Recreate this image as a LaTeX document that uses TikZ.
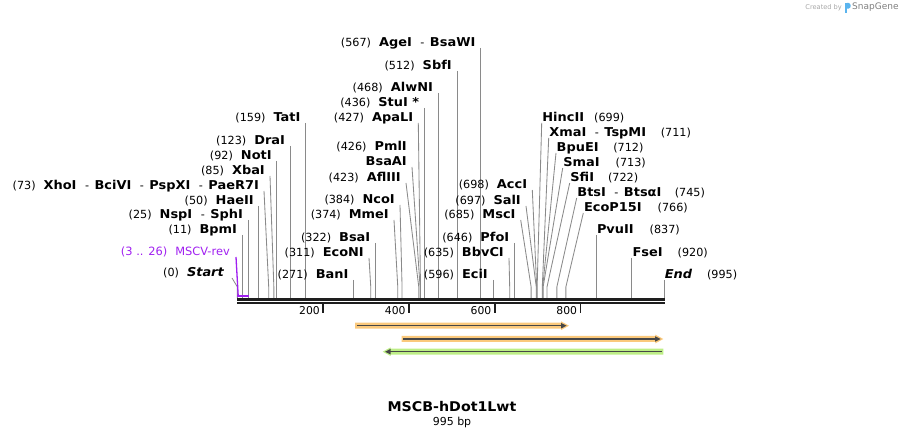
\documentclass[tikz,border=0pt]{standalone}
\usepackage{fontspec}
\setmainfont{DejaVu Sans}
\newfontfamily\nmfont[FakeStretch=1.06]{DejaVu Sans}
\usetikzlibrary{arrows.meta}
\definecolor{conncol}{HTML}{8A8A8A}
\definecolor{seqcol}{HTML}{1E1E1E}
\definecolor{primercol}{RGB}{160,32,240}
\definecolor{orangehl}{HTML}{FBC97C}
\definecolor{greenhl}{HTML}{BDEE86}
\definecolor{featline}{HTML}{474747}
\definecolor{snapblue}{HTML}{5AB4EE}
\newcommand\numf[1]{{\normalfont\fontsize{11.2}{12}\selectfont(#1)}}
\newcommand\nm[1]{{\nmfont\bfseries\fontsize{12.2}{13}\selectfont #1}}
\newcommand\nmi[1]{{\nmfont\bfseries\itshape\fontsize{12.2}{13}\selectfont #1}}
\newcommand\sepp{\hspace{8.5pt}{\normalfont\fontsize{11.2}{12}\selectfont-}\hspace{5.5pt}}
\newcommand\nl[2]{\numf{#1}\hspace{8pt}\nm{#2}}
\newcommand\nr[3]{\nm{#1}\hspace{#2pt}\numf{#3}}
\newcommand\bpx[1]{237.4+0.4288*#1}
\tikzset{
  lblL/.style={anchor=south east, inner xsep=5pt, inner ysep=0pt, text height=9pt, text depth=1.5pt},
  lblR/.style={anchor=south west, inner xsep=0.5pt, inner ysep=0pt, text height=9pt, text depth=1.5pt},
  conn/.style={draw=conncol, line width=0.85pt},
  seqline/.style={draw=seqcol},
  featarrow/.style={draw=featline, line width=1.5pt},
  tickl/.style={anchor=east, inner sep=0pt, font=\fontsize{10.8}{12}\selectfont}
}
\newcommand\labL[5]{%
  \node[lblL] (#1) at (#2,#3) {#5};
  \coordinate (#1k) at (\bpx{#4},287);
  \coordinate (#1p) at (\bpx{#4},298.5);
  \draw[conn] (#1.south east) -- (#1k) -- (#1p);}
\newcommand\labR[5]{%
  \node[lblR] (#1) at (#2,#3) {#5};
  \coordinate (#1k) at (\bpx{#4},287);
  \coordinate (#1p) at (\bpx{#4},298.5);
  \draw[conn] (#1.south west) -- (#1k) -- (#1p);}
\begin{document}
\begin{tikzpicture}[x=1pt,y=-1pt]
\useasboundingbox (0,0) rectangle (903,438);
% watermark
\node[font=\fontsize{6.6}{7}\selectfont, text=black!35, inner sep=0pt, anchor=east] (cb) at (842,7.5) {Created by};
\fill[snapblue] (844.6,3) rectangle (847.2,12.8);
\fill[snapblue] (847.2,3) -- (848.6,3) .. controls (851.4,3) and (851.4,8.6) .. (848.6,8.6) -- (847.2,8.6) -- cycle;
\node[font=\fontsize{9}{10}\selectfont, text=black!50, inner sep=0pt, anchor=west] (sg) at (852,7.5) {SnapGene};

% left group
\labL{ageI}{\bpx{567}}{48}{567}{\nl{567}{AgeI\sepp BsaWI}}
\labL{sbfI}{\bpx{512}}{71}{512}{\nl{512}{SbfI}}
\labL{alwNI}{\bpx{468}}{93}{468}{\nl{468}{AlwNI}}
\labL{stuI}{\bpx{436}}{108}{436}{\nl{436}{StuI *}}
\labL{apaLI}{418.3}{123}{427}{\nl{427}{ApaLI}}
\labL{tatI}{\bpx{159}}{123}{159}{\nl{159}{TatI}}
\labL{draI}{\bpx{123}}{146}{123}{\nl{123}{DraI}}
\labL{notI}{\bpx{92}}{161}{92}{\nl{92}{NotI}}
\labL{xbaI}{270}{176}{85}{\nl{85}{XbaI}}
\labL{xhoI}{264}{191}{73}{\nl{73}{XhoI\sepp BciVI\sepp PspXI\sepp PaeR7I}}
\labL{haeII}{\bpx{50}}{206}{50}{\nl{50}{HaeII}}
\labL{nspI}{\bpx{25}}{220}{25}{\nl{25}{NspI\sepp SphI}}
\labL{bpmI}{\bpx{11}}{235}{11}{\nl{11}{BpmI}}
% start
\node[lblL, inner xsep=8pt] (start) at (232,278) {\numf{0}\hspace{8pt}\nmi{Start}};
\coordinate (startk) at (\bpx{0},287);
\coordinate (startp) at (\bpx{0},298.5);
\draw[conn] (start.south east) -- (startk) -- (startp);
% primer
\node[lblL, inner xsep=6pt, text=primercol] (mscv) at (236,257) {{\fontsize{11.4}{12}\selectfont(3 .. 26)\hspace{8pt}MSCV-rev}};
\coordinate (prA) at (237.4,295.8);
\coordinate (prB) at (\bpx{26},295.8);
\coordinate (prC) at (238.2,295.8);
\draw[primercol, line width=1.3pt] (mscv.south east) -- (prC);
\draw[primercol, line width=2pt] (prA) -- (prB);

% middle left
\node[lblL] (pmlI) at (412,152) {\nl{426}{PmlI}};
\labL{bsaAI}{412}{167}{426}{\nm{BsaAI}}
\labL{aflIII}{406}{183}{423}{\nl{423}{AflIII}}
\labL{ncoI}{400}{205}{384}{\nl{384}{NcoI}}
\labL{mmeI}{394}{220}{374}{\nl{374}{MmeI}}
\labL{bsaI}{\bpx{322}}{243}{322}{\nl{322}{BsaI}}
\labL{ecoNI}{369}{258}{311}{\nl{311}{EcoNI}}
\labL{banI}{\bpx{271}}{280}{271}{\nl{271}{BanI}}
% middle right
\labL{accI}{532.3}{190}{698}{\nl{698}{AccI}}
\labL{salI}{526}{206}{697}{\nl{697}{SalI}}
\labL{mscI}{520.7}{220}{685}{\nl{685}{MscI}}
\labL{pfoI}{\bpx{646}}{243}{646}{\nl{646}{PfoI}}
\labL{bbvCI}{509}{258}{635}{\nl{635}{BbvCI}}
\labL{eciI}{\bpx{596}}{280}{596}{\nl{596}{EciI}}
% right group
\labR{hincII}{541.7}{123}{699}{\nr{HincII}{10}{699}}
\labR{xmaI}{548.7}{138}{711}{\nr{XmaI\sepp TspMI}{14.7}{711}}
\labR{bpuEI}{556}{153}{712}{\nr{BpuEI}{14.7}{712}}
\labR{smaI}{562.7}{168}{713}{\nr{SmaI}{16}{713}}
\labR{sfiI}{569.7}{183}{722}{\nr{SfiI}{14}{722}}
\labR{btsI}{576.7}{198}{745}{\nr{BtsI\sepp BtsαI}{13.4}{745}}
\labR{ecoP}{583.3}{213}{766}{\nr{EcoP15I}{16}{766}}
\labR{pvuII}{\bpx{837}}{235}{837}{\nr{PvuII}{16}{837}}
\labR{fseI}{\bpx{920}}{258}{920}{\nr{FseI}{15}{920}}
\node[lblR] (endl) at (\bpx{995},280) {\nmi{End}\hspace{15pt}\numf{995}};
\coordinate (endp) at (\bpx{995},298.5);
\draw[conn] (endl.south west) -- (endp);

% sequence
\coordinate (sqa) at (237.4,299.5);
\coordinate (sqb) at (665,299.5);
\coordinate (sqc) at (237.4,303.2);
\coordinate (sqd) at (665,303.2);
\draw[seqline, line width=2.4pt] (sqa) -- (sqb);
\draw[seqline, line width=2pt] (sqc) -- (sqd);
\foreach \t in {200,400,600,800}{
  \coordinate (tka\t) at (\bpx{\t},304);
  \coordinate (tkb\t) at (\bpx{\t},312.7);
  \draw[seqline, line width=1.8pt] (tka\t) -- (tkb\t);
  \node[tickl] (tl\t) at (\bpx{\t}-3.2,311) {\t};
}

% features
\coordinate (f1a) at (355,325.7);
\coordinate (f1b) at (569,325.7);
\fill[orangehl] (355,322.7) -- (561,322.7) -- (561,321.3) -- (f1b) -- (561,330.1) -- (561,328.7) -- (355,328.7) -- cycle;
\draw[featarrow, -{Triangle[length=5.5pt,width=5pt]}] (356.7,325.7) -- (566.7,325.7);

\coordinate (f2a) at (401.7,339);
\coordinate (f2b) at (663.3,339);
\fill[orangehl] (401.7,336) -- (655.3,336) -- (655.3,334.6) -- (f2b) -- (655.3,343.4) -- (655.3,342) -- (401.7,342) -- cycle;
\draw[featarrow, -{Triangle[length=5.5pt,width=5pt]}] (403.3,339) -- (660.7,339);

\coordinate (f3a) at (382.7,351.7);
\coordinate (f3b) at (663.3,351.7);
\fill[greenhl] (f3a) -- (390.7,347.3) -- (390.7,348.7) -- (663.3,348.7) -- (663.3,354.7) -- (390.7,354.7) -- (390.7,356.1) -- cycle;
\draw[featarrow, -{Triangle[length=5.5pt,width=5pt]}] (661.7,351.7) -- (385,351.7);

% title
\node[font=\nmfont\bfseries\fontsize{13.4}{14}\selectfont, inner sep=0pt] (title) at (452,407) {MSCB-hDot1Lwt};
\node[font=\fontsize{11}{12}\selectfont, inner sep=0pt] (bp) at (452,422) {995 bp};
\end{tikzpicture}
\end{document}
